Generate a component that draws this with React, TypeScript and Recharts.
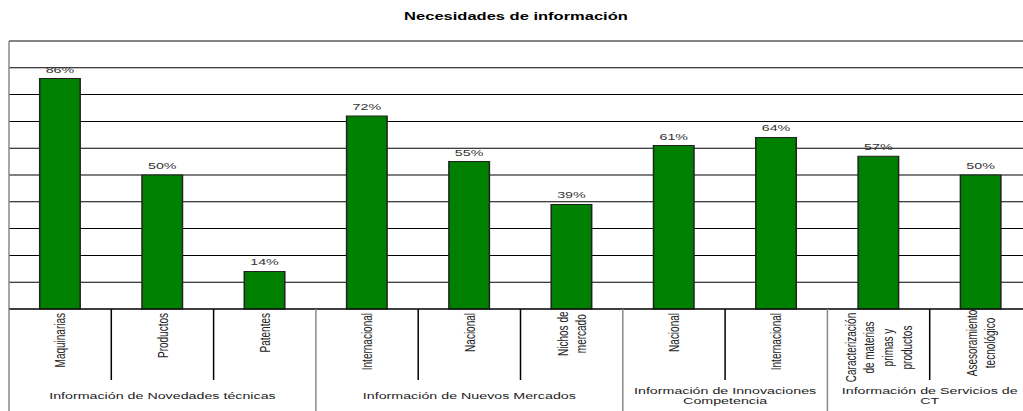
import { Bar, BarChart, CartesianGrid, LabelList, ReferenceLine, XAxis, YAxis } from "recharts";

// the original chart is stretched sideways, so it is drawn narrow and scaled on x
const STRETCH = 1.5;
const CHART_W = 688;
const CHART_H = 411;
const MARGIN = { top: 41, right: 0, left: 6, bottom: 0 };
const PLOT_W = CHART_W - MARGIN.left - MARGIN.right;
const FONT = '"Liberation Sans", Arial, sans-serif';

const categoryNames = [
  "Maquinarias",
  "Productos",
  "Patentes",
  "Internacional",
  "Nacional",
  "Nichos de mercado",
  "Nacional",
  "Internacional",
  "Caracterización de materias primas y productos",
  "Asesoramiento tecnológico",
];

const categoryLines = [
  ["Maquinarias"],
  ["Productos"],
  ["Patentes"],
  ["Internacional"],
  ["Nacional"],
  ["Nichos de", "mercado"],
  ["Nacional"],
  ["Internacional"],
  ["Caracterización", "de materias", "primas y", "productos"],
  ["Asesoramiento", "tecnológico"],
];

const percentages = [86, 50, 14, 72, 55, 39, 61, 64, 57, 50];

const groupLines = [
  ["Información de Novedades técnicas"],
  ["Información de Nuevos Mercados"],
  ["Información de Innovaciones", "Competencia"],
  ["Información de Servicios de", "CT"],
];
const groupSizes = [3, 3, 2, 2];

const yTicks = [0, 10, 20, 30, 40, 50, 60, 70, 80, 90];

const data = categoryNames.map((name, i) => ({
  name,
  value: percentages[i],
}));

// index of the first category of each group
const groupStarts = groupSizes.map((_, g) =>
  groupSizes.slice(0, g).reduce((a, b) => a + b, 0)
);

function CategoryTick(props: any) {
  const { x, y, payload } = props;
  const index: number = payload.index;
  const band = PLOT_W / categoryNames.length;
  const left = x - band / 2;
  const groupIdx = groupStarts.indexOf(index);
  const isGroupStart = groupIdx >= 0;

  const lines = categoryLines[index];
  const lineGap = 12.5;
  const longest = Math.max(...lines.map((l) => l.length));
  const top = y + 4;

  let groupLabel = null;
  if (isGroupStart) {
    const size = groupSizes[groupIdx];
    const cx = left + (size * band) / 2;
    const gl = groupLines[groupIdx];
    groupLabel = gl.map((line, i) => (
      <text
        key={`g${i}`}
        x={cx}
        y={399 + (i - (gl.length - 1) / 2) * 10.5}
        textAnchor="middle"
        fontSize={9.5}
        fontFamily={FONT}
        fill="#222"
      >
        {line}
      </text>
    ));
  }

  return (
    <g>
      <line
        x1={left}
        x2={left}
        y1={y}
        y2={isGroupStart ? CHART_H : y + 71}
        stroke={isGroupStart ? "#888" : "#000"}
        strokeWidth={1}
      />
      {lines.map((line, i) => {
        const lx = x + (i - (lines.length - 1) / 2) * lineGap;
        const single = lines.length === 1;
        const ly = single ? top : top + (longest * 4.6) / 2;
        return (
          <text
            key={i}
            x={lx}
            y={ly}
            dy="0.35em"
            transform={`rotate(-90, ${lx}, ${ly})`}
            textAnchor={single ? "end" : "middle"}
            fontSize={10}
            fontFamily={FONT}
            fill="#222"
          >
            {line}
          </text>
        );
      })}
      {groupLabel}
    </g>
  );
}

export default function App() {
  return (
    <div
      style={{
        position: "absolute",
        left: 0,
        top: 0,
        width: 1023,
        height: 411,
        overflow: "hidden",
        background: "#fff",
      }}
    >
      <div
        style={{
          position: "relative",
          width: CHART_W,
          height: CHART_H,
          transform: `scaleX(${STRETCH})`,
          transformOrigin: "0 0",
        }}
      >
        <div
          style={{
            position: "absolute",
            left: 0,
            top: 11,
            width: CHART_W,
            textAlign: "center",
            fontFamily: FONT,
            fontWeight: "bold",
            fontSize: 11,
            lineHeight: "11px",
            color: "#000",
          }}
        >
          Necesidades de información
        </div>
        <BarChart
          width={CHART_W}
          height={CHART_H}
          data={data}
          margin={MARGIN}
          barCategoryGap="30%"
        >
          <CartesianGrid vertical={false} stroke="#000" />
          <CartesianGrid
            horizontal={false}
            stroke="#888"
            verticalCoordinatesGenerator={({ offset }: any) => [offset.left]}
          />
          <XAxis
            dataKey="name"
            height={CHART_H - 309}
            interval={0}
            tickLine={false}
            tickSize={0}
            tickMargin={0}
            axisLine={{ stroke: "#000" }}
            tick={<CategoryTick />}
          />
          <YAxis domain={[0, 100]} ticks={yTicks} hide />
          <ReferenceLine y={100} stroke="#888" />
          <Bar
            dataKey="value"
            fill="#008000"
            stroke="#222"
            strokeWidth={1}
            isAnimationActive={false}
          >
            <LabelList
              dataKey="value"
              position="top"
              offset={6}
              formatter={(v: any) => `${v}%`}
              fontSize={9.5}
              fontFamily={FONT}
              fill="#333"
            />
          </Bar>
        </BarChart>
      </div>
    </div>
  );
}
